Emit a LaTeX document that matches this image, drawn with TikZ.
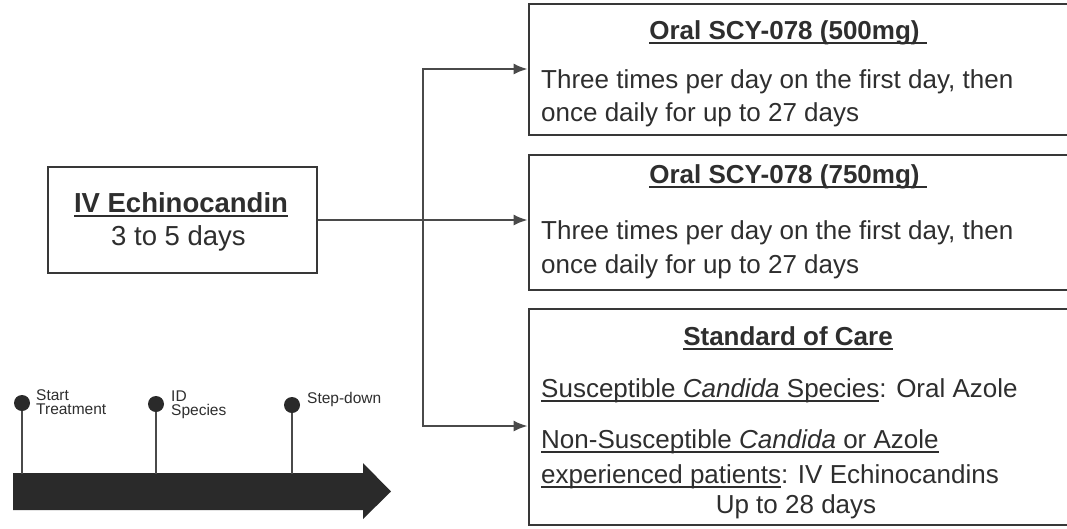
\documentclass[tikz,border=0pt]{standalone}
\usepackage{fontspec}
\setmainfont{Liberation Sans}
\newcommand{\myul}[1]{\setbox0\hbox{#1}\rlap{\rule[-4.5pt]{\wd0}{1.7pt}}\box0}
\usetikzlibrary{arrows.meta}
\definecolor{txt}{HTML}{2E2E2E}
\definecolor{edge}{HTML}{383838}
\definecolor{conn}{HTML}{4A4A4A}
\definecolor{tl}{HTML}{2A2A2A}
\begin{document}
\begin{tikzpicture}[x=1pt,y=-1pt,
  boxx/.style={draw=edge,line width=2.8pt,fill=white,inner sep=0pt,rectangle},
  head/.style={anchor=base,text=txt,font=\fontsize{26}{30}\selectfont\bfseries,inner sep=0pt},
  body/.style={anchor=base west,text=txt,font=\fontsize{26}{30}\selectfont,inner sep=0pt},
  ivt/.style={anchor=base,text=txt,font=\fontsize{27.5}{30}\selectfont,inner sep=0pt},
  small/.style={anchor=base west,align=left,text=txt,font=\fontsize{15.5}{14}\selectfont,inner sep=0pt},
  link/.style={draw=conn,line width=2pt,-{Latex[length=14pt,width=11pt]}},
  link2/.style={draw=conn,line width=2pt,{Latex[length=14pt,width=11pt]}-{Latex[length=14pt,width=11pt]}},
  dotn/.style={circle,fill=tl,minimum size=16pt,inner sep=0pt},
  stem/.style={draw=conn,line width=1.5pt}]
\useasboundingbox (0,0) rectangle (1067,528);
\fill[white] (0,0) rectangle (1067,528);

% right-hand boxes
\node[boxx,minimum width=556pt,minimum height=131pt] (box1) at (807,69.5) {};
\node[boxx,minimum width=556pt,minimum height=135pt] (box2) at (807,222.5) {};
\node[boxx,minimum width=556pt,minimum height=216pt] (box3) at (807,417) {};

% IV box
\node[boxx,minimum width=269pt,minimum height=106pt] (iv) at (182.5,220) {};
\node[ivt,font=\fontsize{27.5}{30}\selectfont\bfseries] (ivh) at (181,212) {\myul{IV Echinocandin}};
\node[ivt] (ivd) at (178.5,245) {3 to 5 days};

% box 1 text
\node[head] (h1) at (788,39) {\myul{Oral SCY-078 (500mg)\hspace{7pt}}};
\node[body] (b1a) at (541,88) {Three times per day on the first day, then};
\node[body] (b1b) at (541,121) {once daily for up to 27 days};

% box 2 text
\node[head] (h2) at (788,183) {\myul{Oral SCY-078 (750mg)\hspace{7pt}}};
\node[body] (b2a) at (541,239) {Three times per day on the first day, then};
\node[body] (b2b) at (541,273) {once daily for up to 27 days};

% box 3 text
\node[head] (h3) at (788,345) {\myul{Standard of Care}};
\node[body] (b3a) at (541,397) {\myul{Susceptible \textit{Candida} Species}: Oral Azole};
\node[body] (b3b) at (541,448) {\myul{Non-Susceptible \textit{Candida} or Azole}};
\node[body] (b3c) at (541,483) {\myul{experienced patients}: IV Echinocandins};
\node[head,font=\fontsize{26}{30}\selectfont] (b3d) at (796,513) {Up to 28 days};

% connectors
\coordinate (jt) at (423,69);
\coordinate (jb) at (423,426);
\draw[link] (iv.east) -- (iv.east -| box2.west);
\draw[link2] (jt -| box1.west) -- (jt) -- (jb) -- (jb -| box3.west);

% timeline
\fill[tl] (13,473) -- (363,473) -- (363,463) -- (391,491.5) -- (363,519) -- (363,510) -- (13,510) -- cycle;
\node[dotn] (d1) at (22,403) {};
\node[dotn] (d2) at (156,404) {};
\node[dotn] (d3) at (292,405) {};
\draw[stem] (d1) -- (d1 |- 0,474);
\draw[stem] (d2) -- (d2 |- 0,474);
\draw[stem] (d3) -- (d3 |- 0,474);
\node[small] (l1) at (36,414) {Start\\Treatment};
\node[small] (l2) at (171,415) {ID\\Species};
\node[small] (l3) at (307,403) {Step-down};
\end{tikzpicture}
\end{document}
